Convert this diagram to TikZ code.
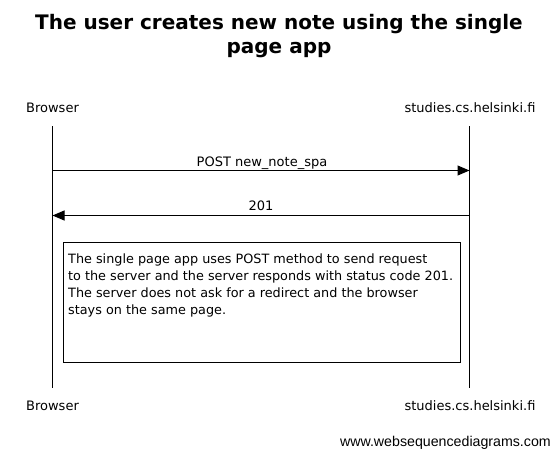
\documentclass[tikz,border=0pt]{standalone}
\usepackage{fontspec}
\setmainfont{DejaVu Sans}
\newfontfamily\wmfont{Liberation Sans}
\usetikzlibrary{arrows.meta}
\tikzset{
  lbl/.style={inner sep=0pt, font=\fontsize{13}{17}\selectfont},
  lifeline/.style={line width=1pt},
  msg/.style={line width=1pt, -{Triangle[length=12pt,width=10pt]}},
  notebox/.style={draw, line width=1pt, fill=white},
  titlestyle/.style={inner sep=0pt, anchor=base, font=\fontsize{20}{22}\selectfont\bfseries}
}
\begin{document}
\begin{tikzpicture}[x=1pt,y=-1pt]
\useasboundingbox (0,0) rectangle (560,458);
% title
\node[titlestyle] (t1) at (279,29) {The user creates new note using the single};
\node[titlestyle] (t2) at (279,53) {page app};
% participants
\node[lbl, anchor=base] (bt) at (52.5,112) {Browser};
\node[lbl, anchor=base] (st) at (470,112) {studies.cs.helsinki.fi};
\node[lbl, anchor=base] (bb) at (52.5,410) {Browser};
\node[lbl, anchor=base] (sb) at (470,410) {studies.cs.helsinki.fi};
\coordinate (b1) at (52.5,126);
\coordinate (b2) at (52.5,388);
\coordinate (s1) at (469.5,126);
\coordinate (s2) at (469.5,388);
\draw[lifeline] (b1) -- (b2);
\draw[lifeline] (s1) -- (s2);
% messages
\coordinate (m1a) at (52.5,170.5);
\coordinate (m1b) at (469.5,170.5);
\coordinate (m2a) at (469.5,215.5);
\coordinate (m2b) at (52.5,215.5);
\draw[msg] (m1a) -- (m1b);
\node[lbl, anchor=base] (l1) at (262,166) {POST new\_note\_spa};
\draw[msg] (m2a) -- (m2b);
\node[lbl, anchor=base] (l2) at (261,210) {201};
% note
\node[notebox, minimum width=397pt, minimum height=120pt, anchor=north west, inner sep=0pt] (note) at (62.5,241.5) {};
\node[inner sep=0pt, font=\fontsize{12.8}{17}\selectfont, anchor=north west, align=left] (nt) at (68,254) {The single page app uses POST method to send request\\to the server and the server responds with status code 201.\\The server does not ask for a redirect and the browser\\stays on the same page.};
% watermark
\node[inner sep=0pt, anchor=base east, font=\wmfont\fontsize{14.2}{16}\selectfont] (wm) at (551,446) {www.websequencediagrams.com};
\end{tikzpicture}
\end{document}
